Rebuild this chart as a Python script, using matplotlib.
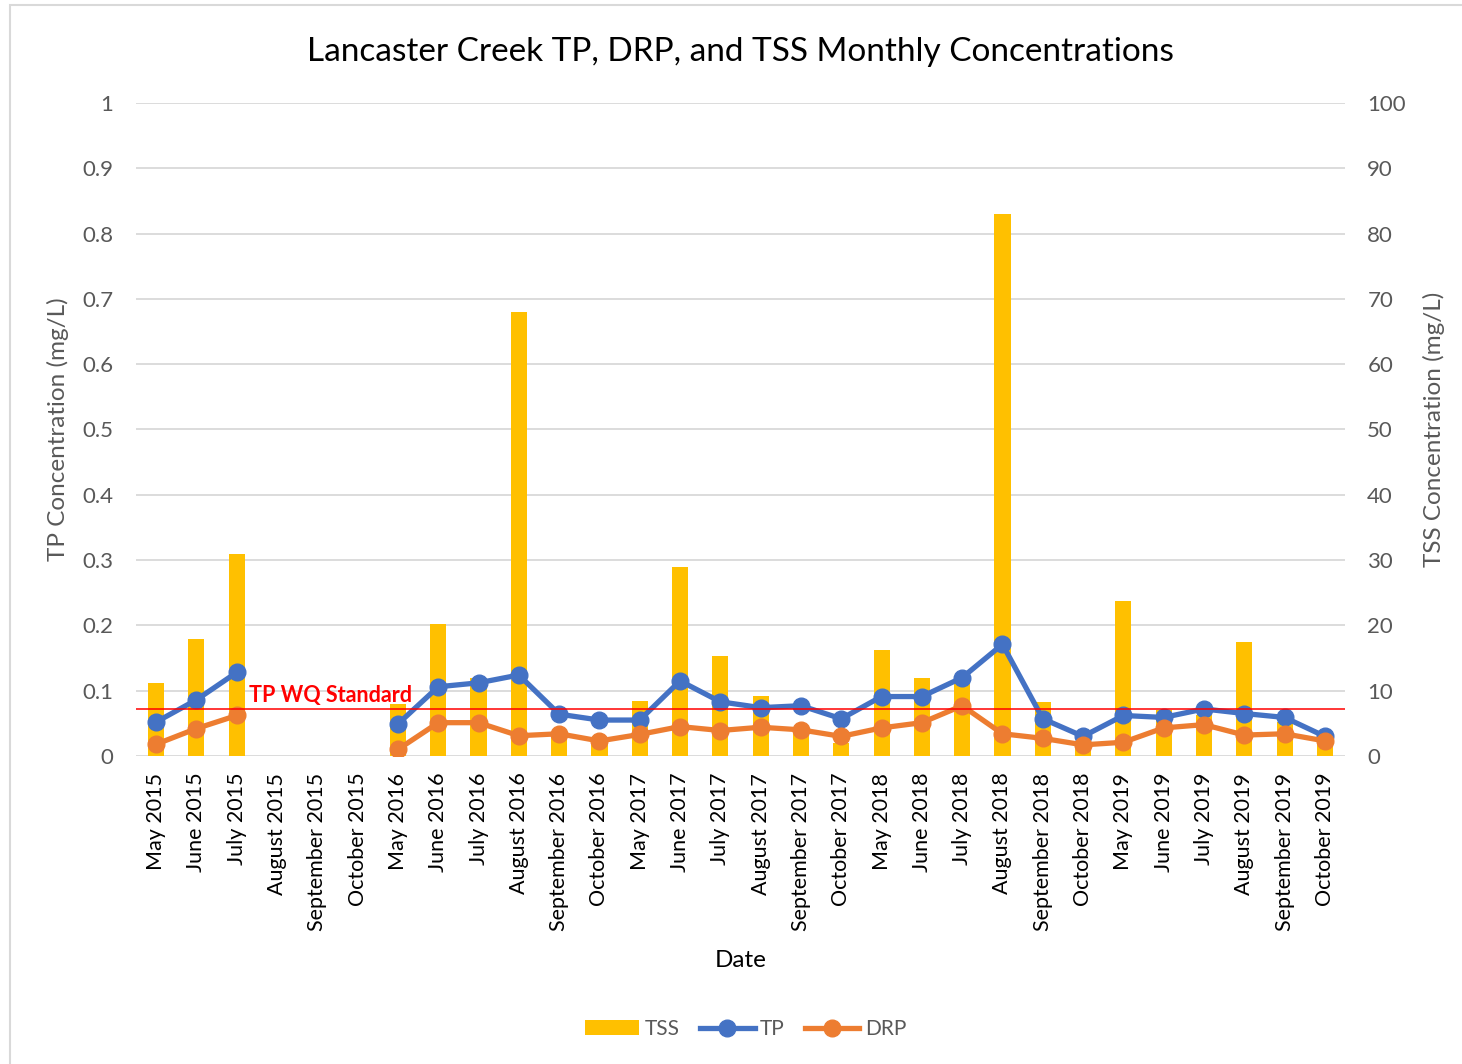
import numpy as np
import matplotlib
matplotlib.use('Agg')
import matplotlib.pyplot as plt
from matplotlib.lines import Line2D
from matplotlib.patches import Patch, Rectangle

plt.rcParams['font.family'] = ['Lato', 'DejaVu Sans']

months = ['May 2015', 'June 2015', 'July 2015', 'August 2015', 'September 2015',
          'October 2015', 'May 2016', 'June 2016', 'July 2016', 'August 2016',
          'September 2016', 'October 2016', 'May 2017', 'June 2017', 'July 2017',
          'August 2017', 'September 2017', 'October 2017', 'May 2018', 'June 2018',
          'July 2018', 'August 2018', 'September 2018', 'October 2018', 'May 2019',
          'June 2019', 'July 2019', 'August 2019', 'September 2019', 'October 2019']

nan = np.nan
tss = [11.2, 17.9, 30.9, nan, nan, nan, 7.9, 20.2, 11.9, 68.0,
       3.6, 2.0, 8.4, 28.9, 15.3, 9.2, 4.5, 2.0, 16.2, 11.9,
       11.6, 83.0, 8.3, 1.5, 23.7, 7.0, 6.2, 17.5, 5.2, 2.4]
tp = [0.052, 0.086, 0.128, nan, nan, nan, 0.049, 0.106, 0.112, 0.124,
      0.064, 0.055, 0.055, 0.115, 0.083, 0.074, 0.077, 0.057, 0.091, 0.091,
      0.120, 0.171, 0.057, 0.030, 0.062, 0.059, 0.072, 0.065, 0.059, 0.030]
drp = [0.018, 0.042, 0.062, nan, nan, nan, 0.010, 0.051, 0.051, 0.031,
       0.034, 0.023, 0.033, 0.045, 0.039, 0.044, 0.040, 0.030, 0.043, 0.051,
       0.077, 0.034, 0.027, 0.017, 0.021, 0.043, 0.048, 0.032, 0.034, 0.023]
tp_standard = 0.0715

gray = '#595959'
x = np.arange(len(months))

fig = plt.figure(figsize=(14.62, 10.64), dpi=100)
ax = fig.add_axes([0.093, 0.2895, 0.827, 0.6137])
ax2 = ax.twinx()
ax.set_zorder(ax2.get_zorder() + 1)
ax.patch.set_visible(False)

# TSS bars on right axis
ax2.bar(x, tss, width=0.4, color='#FFC000', zorder=2)
ax2.set_ylim(0, 100)
ax2.set_yticks(np.arange(0, 101, 10))
ax2.yaxis.grid(True, color='#D9D9D9', linewidth=1.3)
ax2.set_axisbelow(True)
ax2.set_ylabel('TSS Concentration (mg/L)', fontsize=17.5, color=gray, labelpad=12)

# TP and DRP lines on left axis
ax.plot(x, tp, color='#4472C4', lw=3.8, marker='o', ms=12, solid_capstyle='round')
ax.plot(x, drp, color='#ED7D31', lw=3.8, marker='o', ms=12, solid_capstyle='round')
ax.axhline(tp_standard, color='#FF0000', lw=1.1)
ax.text(2.3, tp_standard + 0.005, 'TP WQ Standard', color='#FF0000',
        fontsize=15.5, fontweight='bold', va='bottom', ha='left')
ax.set_ylim(0, 1)
ax.set_yticks(np.arange(0, 1.01, 0.1))
ax.set_yticklabels(['0'] + ['%.1f' % v for v in np.arange(0.1, 0.95, 0.1)] + ['1'])
ax.set_xlim(-0.5, len(months) - 0.5)
ax.set_xticks(x)
ax.set_xticklabels(months, rotation=90, fontsize=15.5, color='black')
ax.set_ylabel('TP Concentration (mg/L)', fontsize=17.5, color=gray, labelpad=9)
ax.set_xlabel('Date', fontsize=17.5, color='black', labelpad=14)

ax.tick_params(axis='y', length=0, labelsize=16, labelcolor=gray, pad=16.5)
ax2.tick_params(axis='y', length=0, labelsize=16, labelcolor=gray, pad=16)
for a in (ax, ax2):
    for s in a.spines.values():
        s.set_visible(False)
ax.tick_params(axis='x', length=0, pad=12)

ax.set_title('Lancaster Creek TP, DRP, and TSS Monthly Concentrations',
             fontsize=24, color='black', pad=30)

handles = [Patch(facecolor='#FFC000', label='TSS'),
           Line2D([0], [0], color='#4472C4', lw=3.8, marker='o', ms=12, label='TP'),
           Line2D([0], [0], color='#ED7D31', lw=3.8, marker='o', ms=12, label='DRP')]
fig.legend(handles=handles, loc='center', bbox_to_anchor=(0.51, 0.033), ncol=3,
           frameon=False, fontsize=15, handlelength=2.6, handletextpad=0.25,
           columnspacing=1.0, labelcolor=gray)

fig.patches.append(Rectangle((10 / 1462, -0.01), 1.0, 1 - 5 / 1064 + 0.01,
                             transform=fig.transFigure, fill=False,
                             edgecolor='#D9D9D9', lw=1.5))

fig.savefig('out.png', dpi=100)
